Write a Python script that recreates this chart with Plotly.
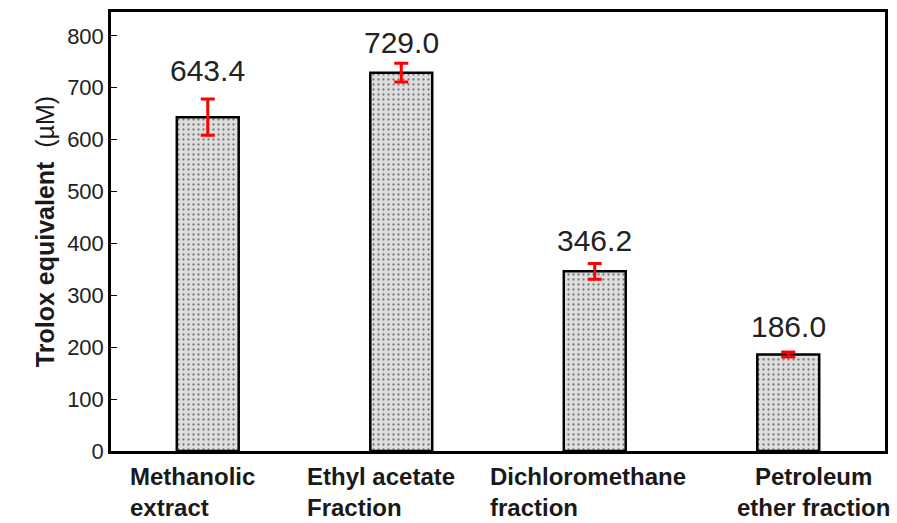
import plotly.graph_objects as go

categories = ["Methanolic<br>extract", "Ethyl acetate<br>Fraction", "Dichloromethane<br>fraction", "Petroleum<br>ether fraction"]
values = [643.4, 729.0, 346.2, 186.0]
errors = [35, 18, 15, 5]
value_labels = ["643.4", "729.0", "346.2", "186.0"]
y_ticks = [0, 100, 200, 300, 400, 500, 600, 700, 800]

label_shift = [47, 30, 31, 28]
label_align = ["left", "left", "left", "center"]
x_label_shift = [-80, -96, -107, -53]

fig = go.Figure()
fig.add_trace(go.Bar(
    x=list(range(len(values))), y=values, width=0.32,
    marker=dict(color="#dedede", line=dict(color="black", width=2.5),
                pattern=dict(shape=".", fgcolor="#111111", bgcolor="#dedede", size=5, solidity=0.17)),
    error_y=dict(type="data", array=errors, color="red", thickness=3, width=7),
    showlegend=False, hoverinfo="skip",
))

annotations = []
for i, (v, t) in enumerate(zip(values, value_labels)):
    annotations.append(dict(x=i, y=v, text=t, showarrow=False, yanchor="middle",
                            yshift=label_shift[i], font=dict(family="Arial, Liberation Sans", size=30, color="#222")))
for i, c in enumerate(categories):
    annotations.append(dict(x=i, y=0, yref="y", text="<b>" + c + "</b>", showarrow=False,
                            xanchor="left", yanchor="top", yshift=-10, xshift=x_label_shift[i], align=label_align[i],
                            font=dict(family="Liberation Sans Narrow, Arial Narrow, Arial", size=24, color="#1a1a1a")))
fig.update_layout(annotations=annotations)

fig.update_layout(
    width=897, height=523,
    margin=dict(l=111, r=9, t=12, b=72),
    plot_bgcolor="white", paper_bgcolor="white",
    xaxis=dict(range=[-0.5, 3.5], showticklabels=False, ticks="", showgrid=False,
               showline=True, linecolor="black", linewidth=2.5, mirror=True, zeroline=False),
    yaxis=dict(range=[0, 846], tickvals=y_ticks, ticks="inside", ticklen=6, tickcolor="black",
               tickfont=dict(family="Arial, Liberation Sans", size=22, color="#222"),
               showgrid=False, showline=True, linecolor="black", linewidth=2.5, mirror=True, zeroline=False,
               title=dict(text="<b>Trolox equivalent</b>  (µM)", standoff=6,
                          font=dict(family="Liberation Sans Narrow, Arial Narrow, Arial", size=25, color="#1a1a1a"))),
)

fig.write_html("out.html", config={"displayModeBar": False},
               post_script="document.body.style.margin='0';")
